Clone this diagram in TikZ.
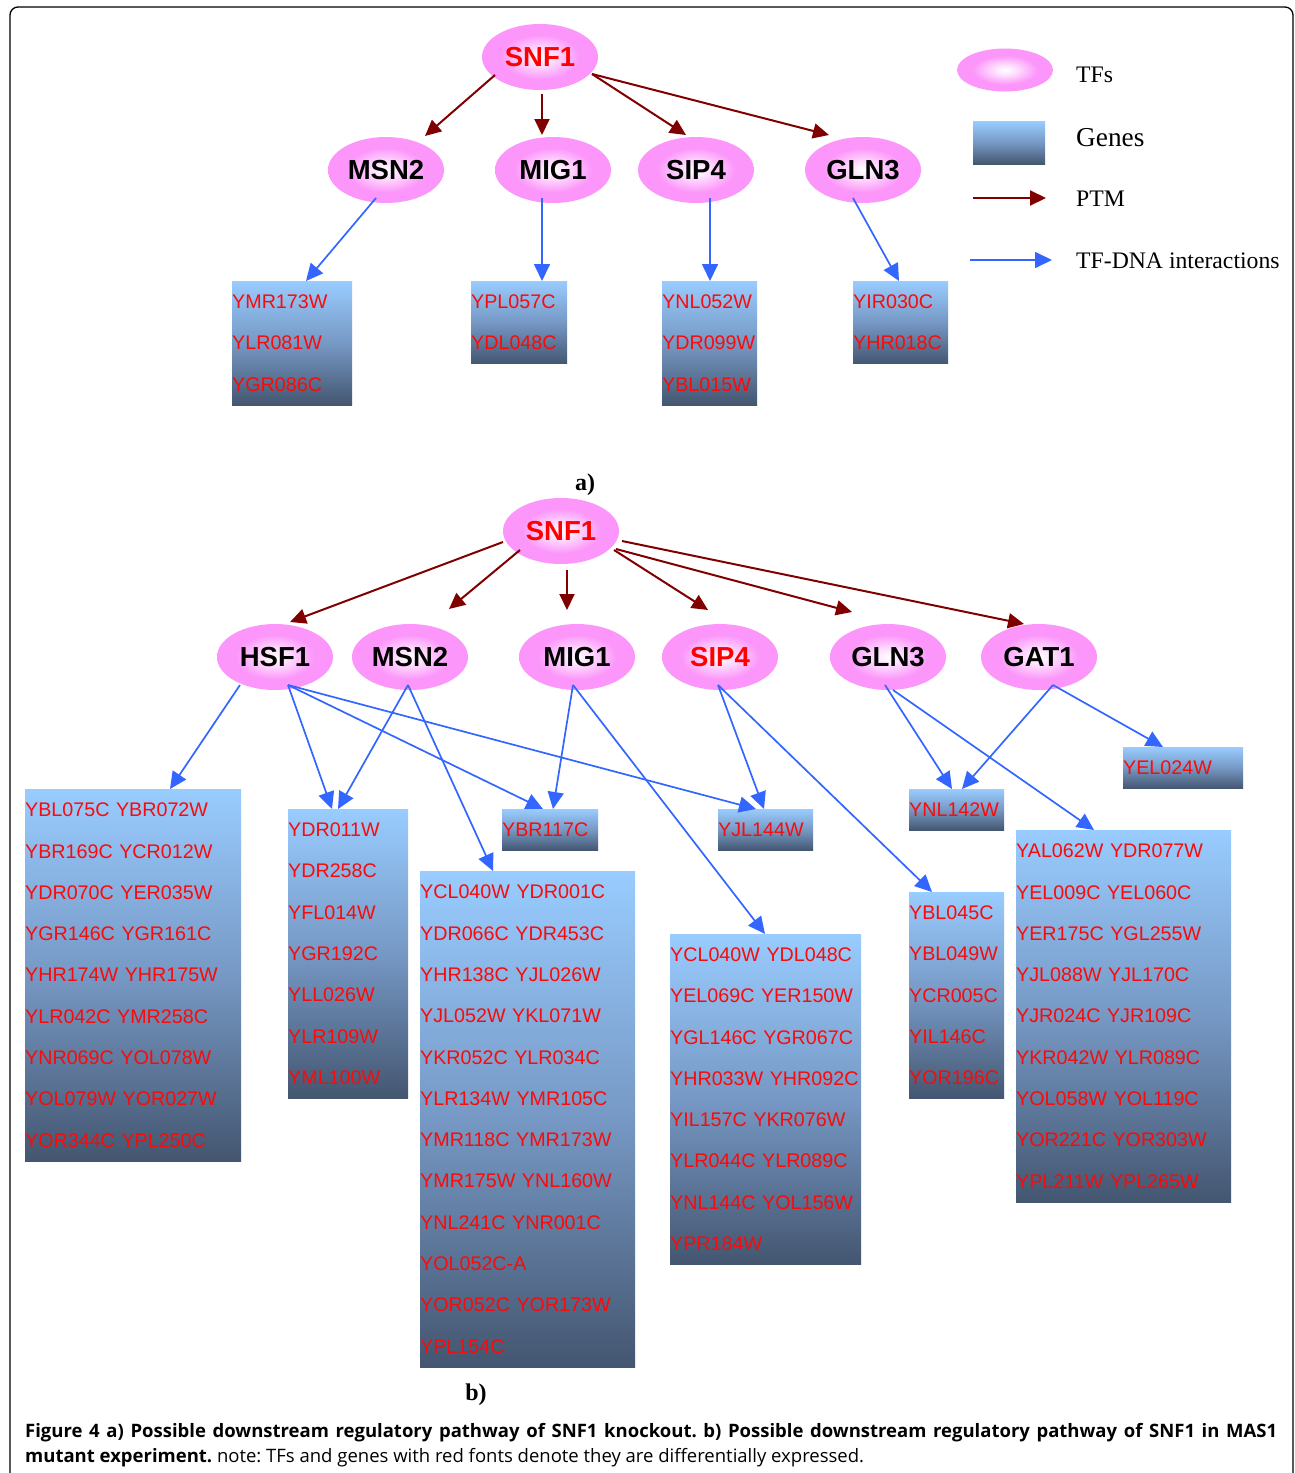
\documentclass[tikz,border=0pt]{standalone}
\usepackage{fontspec}
\setmainfont{Liberation Serif}
\newfontfamily\arialfont{Liberation Sans}
\newfontfamily\capfont{Open Sans}
\usetikzlibrary{shapes.geometric,arrows.meta}
\frenchspacing

\definecolor{tfpink}{RGB}{252,150,250}
\definecolor{ptmred}{RGB}{128,0,0}
\definecolor{dnablue}{RGB}{51,102,255}
\definecolor{genetop}{RGB}{153,204,255}
\definecolor{genemid}{RGB}{118,152,196}
\definecolor{genebot}{RGB}{68,86,112}
\definecolor{genered}{RGB}{250,10,10}

% soft white centre fading into pink
\pgfdeclareradialshading{tfglow}{\pgfpoint{0bp}{0bp}}{color(0bp)=(white); color(5bp)=(white!75!tfpink); color(17bp)=(tfpink); color(25bp)=(tfpink); color(50bp)=(tfpink)}

\tikzset{
  tf/.style={ellipse, shade, shading=tfglow, minimum width=116pt, minimum height=66pt,
    inner sep=0pt, font=\arialfont\bfseries\fontsize{27.5}{30}\selectfont},
  gene/.style={rectangle, anchor=north west, top color=genetop, bottom color=genebot,
    middle color=genemid, inner xsep=0pt, inner ysep=0pt, align=left, text=genered,
    font=\arialfont\fontsize{19.7}{41.3}\selectfont},
  gbox/.style n args={3}{gene, minimum width=#1pt, text width=#1pt, minimum height=#2pt},
  ptm/.style={draw=ptmred, line width=2pt, -{Triangle[length=16pt,width=15pt]}},
  dna/.style={draw=dnablue, line width=1.7pt, -{Triangle[length=17pt,width=16pt]}},
  legtext/.style={anchor=base west, inner sep=0pt, font=\fontsize{23.7}{28}\selectfont},
  partlabel/.style={anchor=base, inner sep=0pt, font=\bfseries\fontsize{24}{28}\selectfont},
  captext/.style={anchor=base west, inner sep=0pt, font=\capfont\fontsize{18.5}{22}\selectfont},
}

\begin{document}
\begin{tikzpicture}[x=1pt, y=-1pt]
\useasboundingbox (0,0) rectangle (1295,1473);
\fill[white] (0,0) rectangle (1295,1473);

% frame, open at the bottom
\draw[line width=1.3pt, rounded corners=8pt] (10,1473) -- (10,7) -- (1293,7) -- (1293,1473);

% ---------------- part a ----------------
\node[tf, text=red] (snfA) at (540,57) {SNF1};
\node[tf] (msn2A) at (386,170) {MSN2};
\node[tf] (mig1A) at (553,170) {MIG1};
\node[tf] (sip4A) at (696,170) {SIP4};
\node[tf] (gln3A) at (863,170) {GLN3};

\node[gbox={120}{124}{}] (a1) at (232,281) {YMR173W\\YLR081W\\YGR086C};
\node[gbox={96}{82.6}{}] (a2) at (471,281) {YPL057C\\YDL048C};
\node[gbox={95}{124}{}] (a3) at (662,281) {YNL052W\\YDR099W\\YBL015W};
\node[gbox={95}{82.6}{}] (a4) at (853,281) {YIR030C\\YHR018C};

\draw[ptm] ([shift={(-45,18)}]snfA.center) -- ([shift={(39,-34)}]msn2A.center);
\draw[ptm] ([shift={(2,37)}]snfA.center) -- ([shift={(-11,-35)}]mig1A.center);
\draw[ptm] ([shift={(52,17)}]snfA.center) -- ([shift={(-10,-35)}]sip4A.center);
\draw[ptm] ([shift={(52,17)}]snfA.center) -- ([shift={(-34,-35)}]gln3A.center);

\draw[dna] ([shift={(-10,28)}]msn2A.center) -- ([shift={(74,0)}]a1.north west);
\draw[dna] ([shift={(-11,28)}]mig1A.center) -- ([shift={(71,0)}]a2.north west);
\draw[dna] ([shift={(14,28)}]sip4A.center) -- ([shift={(48,0)}]a3.north west);
\draw[dna] ([shift={(-10,28)}]gln3A.center) -- ([shift={(46,0)}]a4.north west);

\node[partlabel] (labA) at (585,490) {a)};

% ---------------- legend ----------------
\node[tf, minimum width=96pt, minimum height=43pt] (legtf) at (1005,70) {};
\node[gene, minimum width=72pt, minimum height=43pt] (leggene) at (973,121) {};
\coordinate (ptmS) at (973,198);
\coordinate (ptmE) at (1046,198);
\coordinate (dnaS) at (970,260);
\coordinate (dnaE) at (1052,260);
\draw[ptm] (ptmS) -- (ptmE);
\draw[dna] (dnaS) -- (dnaE);
\node[legtext] (tTF) at (1076,82) {TFs};
\node[legtext, font=\fontsize{27.3}{30}\selectfont] (tGene) at (1076,146) {Genes};
\node[legtext] (tPTM) at (1076,206) {PTM};
\node[legtext] (tDNA) at (1076,268) {TF-DNA interactions};

% ---------------- part b ----------------
\node[tf, text=red] (snfB) at (561,531) {SNF1};
\node[tf] (hsf1B) at (275,657) {HSF1};
\node[tf] (msn2B) at (410,657) {MSN2};
\node[tf] (mig1B) at (577,657) {MIG1};
\node[tf, text=red] (sip4B) at (720,657) {SIP4};
\node[tf] (gln3B) at (888,657) {GLN3};
\node[tf] (gat1B) at (1039,657) {GAT1};

\node[gbox={216}{372}{}] (b1) at (25,789) {YBL075C~YBR072W\\YBR169C~YCR012W\\YDR070C~YER035W\\YGR146C~YGR161C\\YHR174W~YHR175W\\YLR042C~YMR258C\\YNR069C~YOL078W\\YOL079W~YOR027W\\YOR344C~YPL250C};
\node[gbox={120}{289}{}] (b2) at (288,809) {YDR011W\\YDR258C\\YFL014W\\YGR192C\\YLL026W\\YLR109W\\YML100W};
\node[gbox={96}{41.3}{}] (b3) at (502,809) {YBR117C};
\node[gbox={95}{41.3}{}] (b4) at (718,809) {YJL144W};
\node[gbox={215}{496}{}] (b5) at (420,871) {YCL040W~YDR001C\\YDR066C~YDR453C\\YHR138C~YJL026W\\YJL052W~YKL071W\\YKR052C~YLR034C\\YLR134W~YMR105C\\YMR118C~YMR173W\\YMR175W~YNL160W\\YNL241C~YNR001C\\YOL052C-A\\YOR052C~YOR173W\\YPL154C};
\node[gbox={191}{330}{}] (b6) at (670,934) {YCL040W~YDL048C\\YEL069C~YER150W\\YGL146C~YGR067C\\YHR033W~YHR092C\\YIL157C~YKR076W\\YLR044C~YLR089C\\YNL144C~YOL156W\\YPR184W};
\node[gbox={95}{206.5}{}] (b7) at (909,892) {YBL045C\\YBL049W\\YCR005C\\YIL146C\\YOR196C};
\node[gbox={95}{41.3}{}] (b8) at (909,789) {YNL142W};
\node[gbox={120}{41.3}{}] (b9) at (1123,747) {YEL024W};
\node[gbox={215}{372}{}] (b10) at (1016,830) {YAL062W~YDR077W\\YEL009C~YEL060C\\YER175C~YGL255W\\YJL088W~YJL170C\\YJR024C~YJR109C\\YKR042W~YLR089C\\YOL058W~YOL119C\\YOR221C~YOR303W\\YPL211W~YPL265W};

% post-translational modification arrows
\draw[ptm] ([shift={(-58,11)}]snfB.center) -- ([shift={(15,-35)}]hsf1B.center);
\draw[ptm] ([shift={(-41,19)}]snfB.center) -- ([shift={(39,-48)}]msn2B.center);
\draw[ptm] ([shift={(6,39)}]snfB.center) -- ([shift={(-10,-47)}]mig1B.center);
\draw[ptm] ([shift={(53,19)}]snfB.center) -- ([shift={(-12,-47)}]sip4B.center);
\draw[ptm] ([shift={(55,18)}]snfB.center) -- ([shift={(-36,-45)}]gln3B.center);
\draw[ptm] ([shift={(61,10)}]snfB.center) -- ([shift={(-15,-33)}]gat1B.center);

% TF-DNA interactions
\draw[dna] ([shift={(-35,28)}]hsf1B.center) -- ([shift={(145,0)}]b1.north west);
\draw[dna] ([shift={(13,28)}]hsf1B.center) -- ([shift={(44,0)}]b2.north west);
\draw[dna] ([shift={(13,28)}]hsf1B.center) -- ([shift={(41,0)}]b3.north west);
\draw[dna] ([shift={(13,28)}]hsf1B.center) -- ([shift={(38,0)}]b4.north west);
\draw[dna] ([shift={(-2,28)}]msn2B.center) -- ([shift={(50,0)}]b2.north west);
\draw[dna] ([shift={(-2,28)}]msn2B.center) -- ([shift={(73,0)}]b5.north west);
\draw[dna] ([shift={(-4,28)}]mig1B.center) -- ([shift={(51,0)}]b3.north west);
\draw[dna] ([shift={(-4,28)}]mig1B.center) -- ([shift={(95,0)}]b6.north west);
\draw[dna] ([shift={(-2,28)}]sip4B.center) -- ([shift={(46,0)}]b4.north west);
\draw[dna] ([shift={(-2,28)}]sip4B.center) -- ([shift={(23,0)}]b7.north west);
\draw[dna] ([shift={(-3,28)}]gln3B.center) -- ([shift={(43,0)}]b8.north west);
\draw[dna] ([shift={(5,33)}]gln3B.center) -- ([shift={(78,0)}]b10.north west);
\draw[dna] ([shift={(14,28)}]gat1B.center) -- ([shift={(53,0)}]b8.north west);
\draw[dna] ([shift={(14,28)}]gat1B.center) -- ([shift={(40,0)}]b9.north west);

\node[partlabel] (labB) at (476,1400) {b)};

% ---------------- caption ----------------
\node[captext] (cap1) at (25,1437)
  {\makebox[1252pt][s]{\bfseries Figure 4 a) Possible downstream regulatory pathway of SNF1 knockout. b) Possible downstream regulatory pathway of SNF1 in MAS1}};
\node[captext] (cap2) at (25,1462)
  {{\bfseries mutant experiment.} note: TFs and genes with red fonts denote they are differentially expressed.};
\end{tikzpicture}
\end{document}
